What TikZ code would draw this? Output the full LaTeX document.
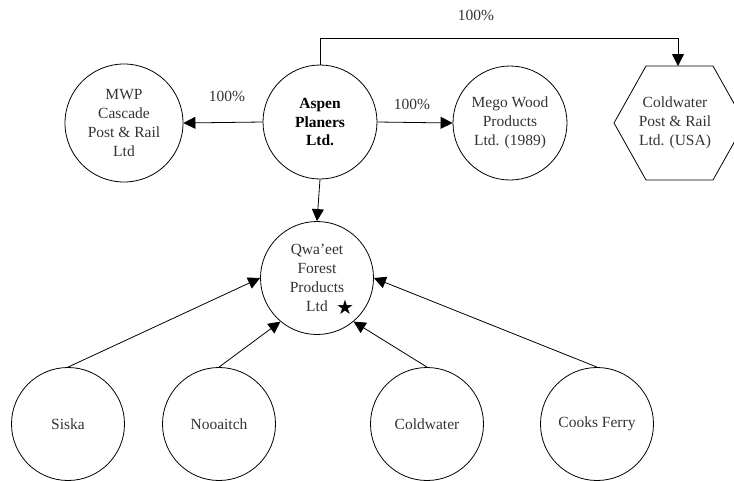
\documentclass[tikz,border=0pt]{standalone}
\usepackage{fontspec}
\setmainfont{Liberation Serif}
\newfontfamily\symfont{DejaVu Sans}
\usetikzlibrary{arrows.meta}
\begin{document}
\begin{tikzpicture}[x=1pt,y=-1pt,
  every node/.style={font=\fontsize{15.5}{19}\selectfont, text=black!80},
  org/.style={circle, draw=black, line width=0.8pt, align=center, inner sep=0pt},
  conn/.style={draw=black, line width=0.8pt, -{Triangle[length=12pt,width=12pt]}},
  pct/.style={inner sep=0pt}
]
\useasboundingbox (0,0) rectangle (734,480);
\clip (0,0) rectangle (734,480);
% nodes
\node[org, minimum size=114pt, text=black, font=\fontsize{15.5}{18.5}\selectfont\bfseries] (aspen) at (320,122) {Aspen\\Planers\\Ltd.};
\node[org, minimum size=118pt] (mwp) at (124,123) {MWP\\Cascade\\Post \& Rail\\Ltd};
\node[org, minimum size=114pt] (mego) at (510,123) {Mego Wood\\Products\\Ltd. (1989)};
\node[org, minimum size=113pt] (qwa) at (317,278) {Qwa’eet\\Forest\\Products\\Ltd};
\node[inner sep=0pt, text=black, font=\symfont\fontsize{20}{20}\selectfont] (star) at (345,307) {★};
\node[org, minimum size=113pt] (siska) at (68,424) {Siska};
\node[org, minimum size=113pt] (nooa) at (219,424) {Nooaitch};
\node[org, minimum size=113pt] (coldw) at (427,424) {Coldwater};
\node[org, minimum size=113pt] (cooks) at (597,424) {Cooks Ferry};
% hexagon
\draw[line width=0.8pt] (614,123) -- (646,66) -- (713,66) -- (745,123) -- (713,180) -- (646,180) -- cycle;
\coordinate (hextop) at (678,66);
\node[align=center, inner sep=0pt] (cwusa) at (675,123) {Coldwater\\Post \& Rail\\Ltd. (USA)};
% connectors
\draw[conn] (aspen.west) -- (mwp.east);
\draw[conn] (aspen.east) -- (mego.west);
\draw[conn] (aspen.south) -- (qwa.north);
\draw[conn] (aspen.north) -- (320,38) -| (hextop);
\draw[conn] (siska.north) -- (qwa.west);
\draw[conn] (nooa.north) -- (qwa.230);
\draw[conn] (coldw.north) -- (qwa.310);
\draw[conn] (cooks.north) -- (qwa.east);
% labels
\node[pct] (l1) at (227,96) {100\%};
\node[pct] (l2) at (412,104) {100\%};
\node[pct] (l3) at (476,15) {100\%};
\end{tikzpicture}
\end{document}
